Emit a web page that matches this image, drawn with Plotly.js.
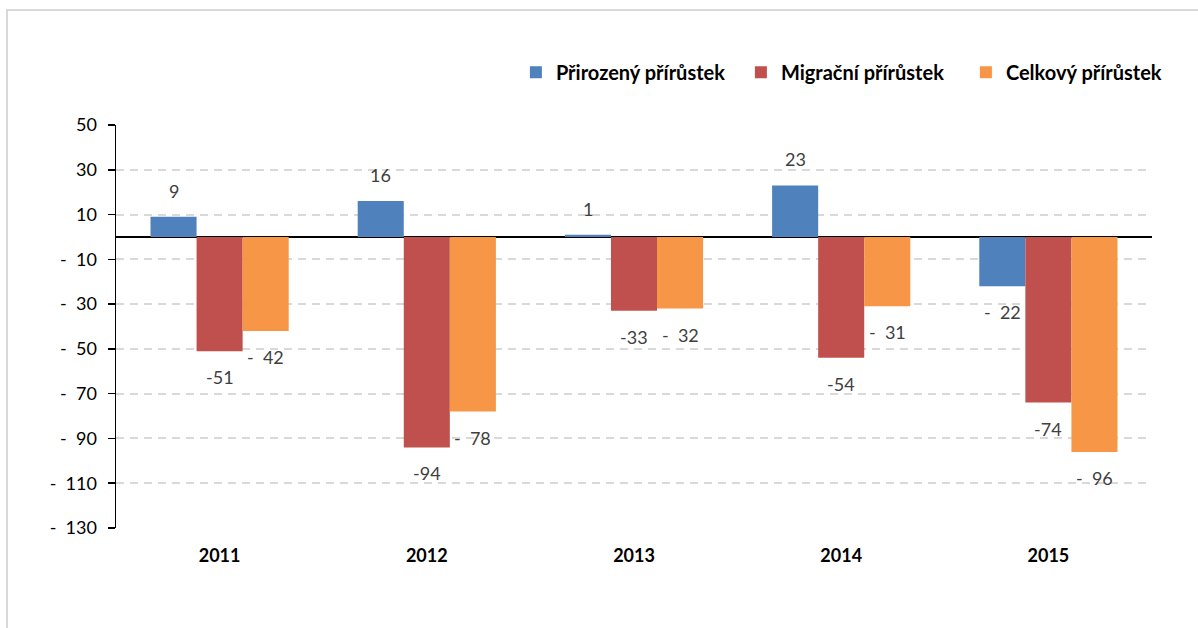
<!DOCTYPE html>
<html>
<head>
<meta charset="utf-8">
<script src="https://cdn.plot.ly/plotly-3.0.1.min.js"></script>
<style>
  html, body { margin: 0; padding: 0; background: #fff; }
  #chart { width: 1198px; height: 628px; }
  #frame { position: absolute; left: 6px; top: 9px; width: 1192px; height: 619px;
           border-top: 2px solid #d9d9d9; border-left: 2px solid #d9d9d9; pointer-events: none; box-sizing: border-box; }
</style>
</head>
<body>
<div id="chart"></div>
<div id="frame"></div>
<script>
const years = ['2011', '2012', '2013', '2014', '2015'];
const natural = [9, 16, 1, 23, -22];
const migration = [-51, -94, -33, -54, -74];
const total = [-42, -78, -32, -31, -96];
const seriesNames = ['Přirozený přírůstek', 'Migrační přírůstek', 'Celkový přírůstek'];
const seriesColors = ['#4F81BD', '#C0504D', '#F79646'];
const yTickVals = [50, 30, 10, -10, -30, -50, -70, -90, -110, -130];

const NB = '\u00a0';
function accounting(v) { return v < 0 ? '-' + NB + NB + Math.abs(v) : String(v); }
function plain(v) { return String(v); }
const formatters = [accounting, plain, accounting];
const allSeries = [natural, migration, total];

const font = 'Lato, "Open Sans", sans-serif';

const traces = allSeries.map((vals, i) => ({
  type: 'bar',
  name: seriesNames[i],
  x: years,
  y: vals,
  marker: { color: seriesColors[i] },
  hoverinfo: 'x+y+name'
}));

const barPx = 46;
const annotations = [];
allSeries.forEach((vals, i) => {
  vals.forEach((v, j) => {
    annotations.push({
      x: j, y: v, xref: 'x', yref: 'y',
      text: formatters[i](v),
      showarrow: false,
      xshift: (i - 1) * barPx,
      yshift: v >= 0 ? 26 : -26,
      font: { family: font, size: 18, color: '#404040' }
    });
  });
});

const layout = {
  width: 1198, height: 628,
  margin: { l: 116, r: 46, t: 125, b: 100, autoexpand: false },
  paper_bgcolor: '#ffffff', plot_bgcolor: '#ffffff',
  font: { family: font, size: 16, color: '#000' },
  barmode: 'group',
  bargap: 0.333, bargroupgap: 0,
  showlegend: true,
  legend: {
    orientation: 'h', x: 0.386, xanchor: 'left', y: 1.131, yanchor: 'middle',
    entrywidth: 180, entrywidthmode: 'pixels',
    font: { family: font, size: 20, color: '#000', weight: 'bold' },
    traceorder: 'normal'
  },
  xaxis: {
    type: 'category',
    range: [-0.5, 4.5],
    showline: false, showgrid: false, zeroline: false,
    ticks: '', ticklabelstandoff: 15,
    tickfont: { family: font, size: 18, color: '#000', weight: 'bold' }
  },
  yaxis: {
    range: [-130, 50],
    tickvals: yTickVals,
    ticktext: yTickVals.map(v => v < 0 ? '-' + NB + NB + Math.abs(v) : String(v)),
    showline: true, linecolor: '#000', linewidth: 1.5,
    ticks: 'outside', ticklen: 7, tickcolor: '#000', tickwidth: 1.5,
    ticklabelstandoff: 7,
    showgrid: true, gridcolor: '#d9d9d9', gridwidth: 2, griddash: '8px,6px',
    zeroline: true, zerolinecolor: '#000', zerolinewidth: 2,
    tickfont: { family: font, size: 18, color: '#000' }
  },
  annotations: annotations
};

Plotly.newPlot('chart', traces, layout, { displayModeBar: false, staticPlot: true });
</script>
</body>
</html>
